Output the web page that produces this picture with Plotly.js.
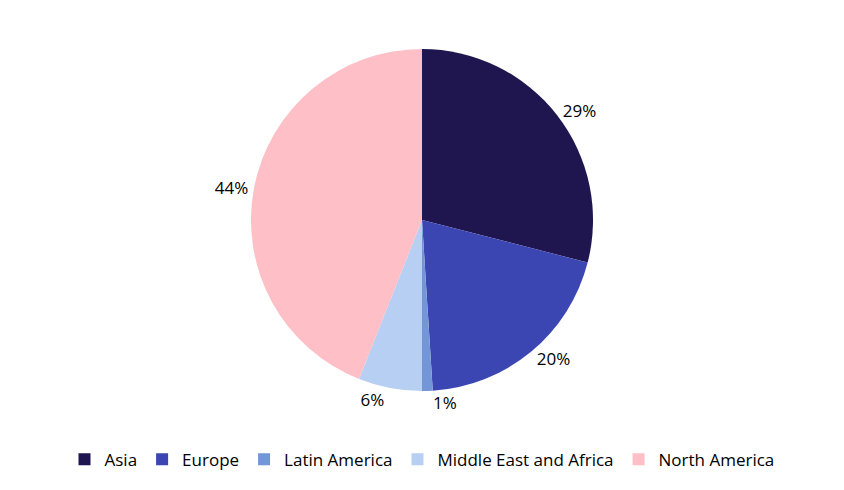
<!DOCTYPE html>
<html>
<head>
<meta charset="utf-8">
<script src="https://cdn.plot.ly/plotly-3.0.1.min.js"></script>
<style>html,body{margin:0;padding:0;background:#fff;}#chart{width:844px;height:490px;}</style>
</head>
<body>
<div id="chart"></div>
<script>
var regions = ["Asia", "Europe", "Latin America", "Middle East and Africa", "North America"];
var shares = [29, 20, 1, 6, 44];
var colors = ["#1f1650", "#3c46b3", "#7296d8", "#b7cff3", "#ffbfc7"];

var trace = {
  type: "pie",
  labels: regions,
  values: shares,
  sort: false,
  direction: "clockwise",
  rotation: 0,
  marker: {colors: colors, line: {width: 0}},
  textinfo: "percent",
  texttemplate: "%{value}%",
  textposition: "outside",
  textfont: {family: "Open Sans, sans-serif", size: 17, color: "#000"},
  hoverinfo: "label+percent",
  domain: {x: [0, 1], y: [0.202, 0.9]},
  automargin: false
};

var layout = {
  width: 844,
  height: 490,
  margin: {l: 0, r: 0, t: 0, b: 0},
  paper_bgcolor: "#fff",
  showlegend: true,
  legend: {
    orientation: "h",
    x: 0.5, xanchor: "center",
    y: 0.025, yanchor: "bottom",
    font: {family: "Open Sans, sans-serif", size: 17, color: "#000"},
    itemwidth: 30,
    traceorder: "normal"
  }
};

Plotly.newPlot("chart", [trace], layout, {displayModeBar: false, staticPlot: true});
</script>
</body>
</html>
